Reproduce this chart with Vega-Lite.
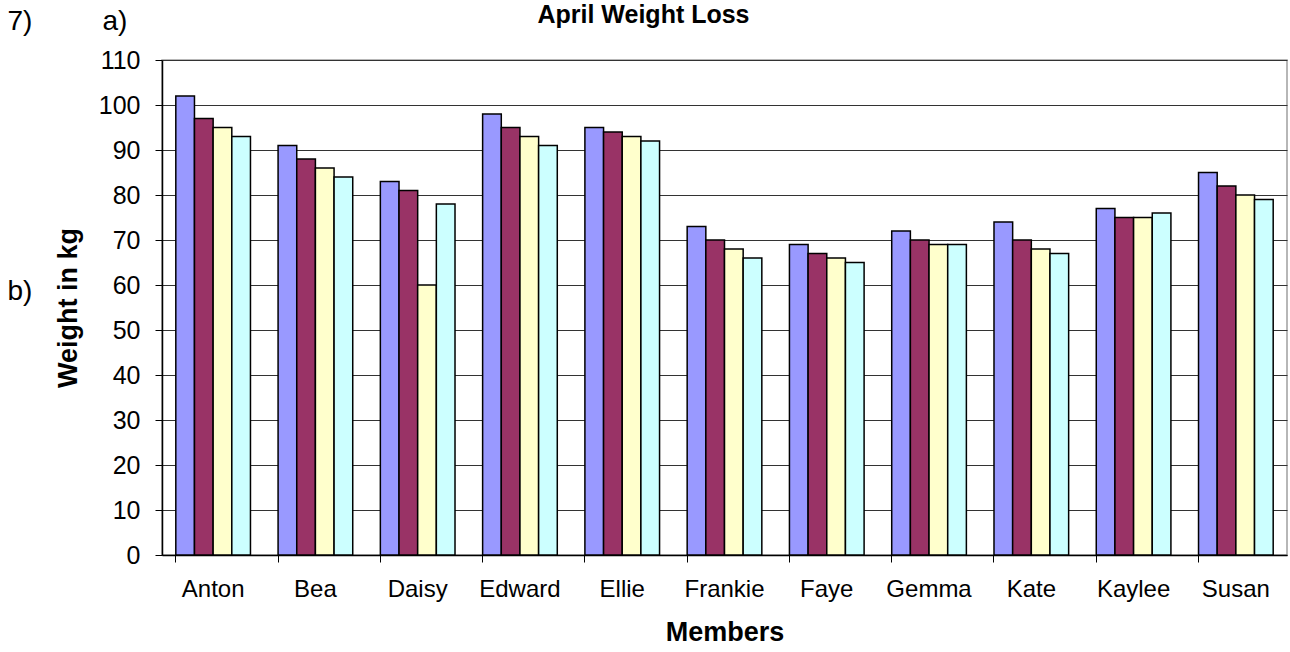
{
  "$schema": "https://vega.github.io/schema/vega-lite/v6.json",
  "width": 1125,
  "height": 495,
  "autosize": {"type": "none"},
  "padding": {"left": 162, "top": 60, "right": 3, "bottom": 97},
  "background": "white",
  "config": {
    "font": "Liberation Sans",
    "view": {"stroke": "#a0a0a0", "strokeWidth": 1.5},
    "axis": {"labelFont": "Liberation Sans", "titleFont": "Liberation Sans"}
  },
  "data": {
    "values": [
      {"member": "Anton", "week": "Week 1", "kg": 102},
      {"member": "Anton", "week": "Week 2", "kg": 97},
      {"member": "Anton", "week": "Week 3", "kg": 95},
      {"member": "Anton", "week": "Week 4", "kg": 93},
      {"member": "Bea", "week": "Week 1", "kg": 91},
      {"member": "Bea", "week": "Week 2", "kg": 88},
      {"member": "Bea", "week": "Week 3", "kg": 86},
      {"member": "Bea", "week": "Week 4", "kg": 84},
      {"member": "Daisy", "week": "Week 1", "kg": 83},
      {"member": "Daisy", "week": "Week 2", "kg": 81},
      {"member": "Daisy", "week": "Week 3", "kg": 60},
      {"member": "Daisy", "week": "Week 4", "kg": 78},
      {"member": "Edward", "week": "Week 1", "kg": 98},
      {"member": "Edward", "week": "Week 2", "kg": 95},
      {"member": "Edward", "week": "Week 3", "kg": 93},
      {"member": "Edward", "week": "Week 4", "kg": 91},
      {"member": "Ellie", "week": "Week 1", "kg": 95},
      {"member": "Ellie", "week": "Week 2", "kg": 94},
      {"member": "Ellie", "week": "Week 3", "kg": 93},
      {"member": "Ellie", "week": "Week 4", "kg": 92},
      {"member": "Frankie", "week": "Week 1", "kg": 73},
      {"member": "Frankie", "week": "Week 2", "kg": 70},
      {"member": "Frankie", "week": "Week 3", "kg": 68},
      {"member": "Frankie", "week": "Week 4", "kg": 66},
      {"member": "Faye", "week": "Week 1", "kg": 69},
      {"member": "Faye", "week": "Week 2", "kg": 67},
      {"member": "Faye", "week": "Week 3", "kg": 66},
      {"member": "Faye", "week": "Week 4", "kg": 65},
      {"member": "Gemma", "week": "Week 1", "kg": 72},
      {"member": "Gemma", "week": "Week 2", "kg": 70},
      {"member": "Gemma", "week": "Week 3", "kg": 69},
      {"member": "Gemma", "week": "Week 4", "kg": 69},
      {"member": "Kate", "week": "Week 1", "kg": 74},
      {"member": "Kate", "week": "Week 2", "kg": 70},
      {"member": "Kate", "week": "Week 3", "kg": 68},
      {"member": "Kate", "week": "Week 4", "kg": 67},
      {"member": "Kaylee", "week": "Week 1", "kg": 77},
      {"member": "Kaylee", "week": "Week 2", "kg": 75},
      {"member": "Kaylee", "week": "Week 3", "kg": 75},
      {"member": "Kaylee", "week": "Week 4", "kg": 76},
      {"member": "Susan", "week": "Week 1", "kg": 85},
      {"member": "Susan", "week": "Week 2", "kg": 82},
      {"member": "Susan", "week": "Week 3", "kg": 80},
      {"member": "Susan", "week": "Week 4", "kg": 79}
    ]
  },
  "layer": [
    {
      "mark": {"type": "bar", "stroke": "black", "strokeWidth": 1.5},
      "encoding": {
        "x": {
          "field": "member",
          "type": "nominal",
          "sort": null,
          "scale": {"paddingInner": 0.27, "paddingOuter": 0.135},
          "axis": {
            "title": "Members",
            "titleFontSize": 27,
            "titleFontWeight": "bold",
            "titleColor": "black",
            "titlePadding": 18,
            "labelAngle": 0,
            "labelFontSize": 24,
            "labelColor": "black",
            "labelPadding": 15,
            "bandPosition": 0,
            "ticks": true,
            "tickSize": 7,
            "tickColor": "black",
            "domainColor": "black",
            "domainWidth": 1.5,
            "grid": false
          }
        },
        "y": {
          "field": "kg",
          "type": "quantitative",
          "scale": {"domain": [0, 110], "nice": false},
          "axis": {
            "title": "Weight in kg",
            "titleFontSize": 27,
            "titleFontWeight": "bold",
            "titleColor": "black",
            "titlePadding": 16,
            "values": [0, 10, 20, 30, 40, 50, 60, 70, 80, 90, 100, 110],
            "labelFontSize": 25,
            "labelColor": "black",
            "labelPadding": 15,
            "tickSize": 7,
            "tickColor": "black",
            "domainColor": "black",
            "domainWidth": 1.5,
            "grid": true,
            "gridColor": "#333333",
            "gridWidth": 1.2,
            "gridOpacity": 1
          }
        },
        "xOffset": {"field": "week", "type": "nominal"},
        "color": {
          "field": "week",
          "type": "nominal",
          "scale": {"domain": ["Week 1", "Week 2", "Week 3", "Week 4"], "range": ["#9999FF", "#993366", "#FFFFCC", "#CCFFFF"]},
          "legend": null
        }
      }
    },
    {
      "mark": {"type": "bar", "opacity": 0},
      "encoding": {
        "x": {
          "field": "member",
          "type": "nominal",
          "sort": null,
          "axis": {
            "orient": "top",
            "labels": false,
            "ticks": false,
            "domain": false,
            "grid": false,
            "title": "April Weight Loss",
            "titleFontSize": 25,
            "titleFontWeight": "bold",
            "titleColor": "black",
            "titleAlign": "center",
            "titleBaseline": "top",
            "titleAnchor": "start",
            "titleX": 481,
            "titleY": -58
          }
        },
        "y": {
          "field": "kg",
          "type": "quantitative",
          "axis": {
            "orient": "right",
            "labels": false,
            "ticks": false,
            "domain": false,
            "grid": false,
            "title": ["7)\u00a0\u00a0\u00a0\u00a0\u00a0\u00a0\u00a0\u00a0\u00a0a)", "b)"],
            "titleAngle": 0,
            "titleFontSize": 28,
            "titleFontWeight": "normal",
            "titleColor": "black",
            "titleAlign": "left",
            "titleBaseline": "top",
            "titleLineHeight": 270,
            "titleX": -1280,
            "titleY": -53
          }
        }
      }
    }
  ],
  "resolve": {"axis": {"x": "independent", "y": "independent"}}
}
